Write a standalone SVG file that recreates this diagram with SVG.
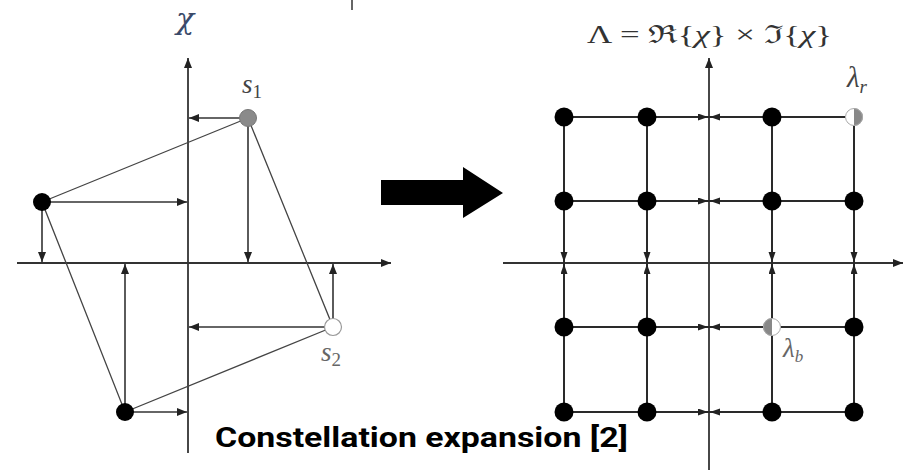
<svg xmlns="http://www.w3.org/2000/svg" width="904" height="474" viewBox="0 0 904 474">
<defs>
<marker id="ah" markerUnits="userSpaceOnUse" markerWidth="11" markerHeight="8" refX="10" refY="4" orient="auto"><path d="M0,0 L10,4 L0,8 z" fill="#222"/></marker>
<marker id="ahs" markerUnits="userSpaceOnUse" markerWidth="11" markerHeight="8" refX="10" refY="3.5" orient="auto"><path d="M0,0 L10,3.5 L0,7 z" fill="#222"/></marker>
</defs>
<style>
.ax{stroke:#333;stroke-width:1.8;fill:none}
.pr{stroke:#333;stroke-width:1.6;fill:none;marker-end:url(#ah)}
.quad{stroke:#444;stroke-width:1.3;fill:none}
.gl{stroke:#2a2a2a;stroke-width:2;fill:none}
.ga{stroke:#2a2a2a;stroke-width:2;fill:none;marker-end:url(#ahs)}
.dot{fill:#000}
.cap{font-family:Roboto,"Liberation Sans",sans-serif;font-weight:bold;font-size:28px;fill:#000}
</style>
<line x1="352" y1="0" x2="352" y2="10" stroke="#333" stroke-width="1.5"/>
<g id="left-axes">
<line class="ax" x1="188" y1="453" x2="188" y2="58" marker-end="url(#ah)"/>
<line class="ax" x1="17" y1="263" x2="391" y2="263" marker-end="url(#ah)"/>
<text x="185" y="29" font-family="'DejaVu Serif',serif" font-style="italic" font-size="30" text-anchor="middle" fill="#3a4a6a">χ</text>
</g>
<g id="connectors">
<polygon class="quad" points="248,118 42,202 125,412 333,327"/>
<line class="pr" x1="240" y1="118" x2="189" y2="118"/>
<line class="pr" x1="248" y1="126" x2="248" y2="262"/>
<line class="pr" x1="50" y1="202" x2="187" y2="202"/>
<line class="pr" x1="42" y1="210" x2="42" y2="262"/>
<line class="pr" x1="125" y1="404" x2="125" y2="264"/>
<line class="pr" x1="133" y1="412" x2="187" y2="412"/>
<line class="pr" x1="325" y1="327" x2="189" y2="327"/>
<line class="pr" x1="333" y1="319" x2="333" y2="264"/>
</g>
<g id="s1"><circle cx="248" cy="118" r="8.5" fill="#8a8a8a" stroke="#777" stroke-width="1"/>
<text x="242" y="93" font-family="'Liberation Serif',serif" font-style="italic" font-size="27" fill="#444">s<tspan font-size="19" dy="5" font-style="normal">1</tspan></text></g>
<g id="p-left"><circle class="dot" cx="42" cy="202" r="9"/></g>
<g id="p-bottom"><circle class="dot" cx="125" cy="412" r="9"/></g>
<g id="s2"><circle cx="333" cy="327" r="8.5" fill="#fff" stroke="#999" stroke-width="1.2"/>
<text x="321" y="361" font-family="'Liberation Serif',serif" font-style="italic" font-size="27" fill="#666">s<tspan font-size="19" dy="5" font-style="normal">2</tspan></text></g>
<g id="big-arrow"><polygon points="381,180 463,180 463,167 503,193 463,218 463,205 381,205" fill="#000"/></g>
<g id="right-axes">
<line class="ax" x1="709" y1="470" x2="709" y2="58" marker-end="url(#ah)"/>
<line class="ax" x1="503" y1="263" x2="903" y2="263" marker-end="url(#ah)"/>
<text x="587" y="43" font-family="'Liberation Serif','DejaVu Serif',serif" font-size="25" fill="#333" textLength="245" lengthAdjust="spacingAndGlyphs">Λ = ℜ{<tspan font-style="italic">χ</tspan>} × ℑ{<tspan font-style="italic">χ</tspan>}</text>
</g>
<g id="grid">
<line class="gl" x1="564" y1="117" x2="564" y2="412"/>
<line class="gl" x1="647" y1="117" x2="647" y2="412"/>
<line class="gl" x1="772" y1="117" x2="772" y2="412"/>
<line class="gl" x1="854" y1="117" x2="854" y2="412"/>
<line class="gl" x1="564" y1="117" x2="854" y2="117"/>
<line class="gl" x1="564" y1="201" x2="854" y2="201"/>
<line class="gl" x1="564" y1="327" x2="854" y2="327"/>
<line class="gl" x1="564" y1="412" x2="854" y2="412"/>
<line class="ga" x1="690" y1="117" x2="708" y2="117"/><line class="ga" x1="728" y1="117" x2="710" y2="117"/>
<line class="ga" x1="690" y1="201" x2="708" y2="201"/><line class="ga" x1="728" y1="201" x2="710" y2="201"/>
<line class="ga" x1="690" y1="327" x2="708" y2="327"/><line class="ga" x1="728" y1="327" x2="710" y2="327"/>
<line class="ga" x1="690" y1="412" x2="708" y2="412"/><line class="ga" x1="728" y1="412" x2="710" y2="412"/>
<line class="ga" x1="564" y1="245" x2="564" y2="262"/><line class="ga" x1="564" y1="281" x2="564" y2="264"/>
<line class="ga" x1="647" y1="245" x2="647" y2="262"/><line class="ga" x1="647" y1="281" x2="647" y2="264"/>
<line class="ga" x1="772" y1="245" x2="772" y2="262"/><line class="ga" x1="772" y1="281" x2="772" y2="264"/>
<line class="ga" x1="854" y1="245" x2="854" y2="262"/><line class="ga" x1="854" y1="281" x2="854" y2="264"/>
</g>
<g id="grid-points">
<circle class="dot" cx="564" cy="117" r="9.5"/><circle class="dot" cx="647" cy="117" r="9.5"/><circle class="dot" cx="772" cy="117" r="9.5"/>
<circle class="dot" cx="564" cy="201" r="9.5"/><circle class="dot" cx="647" cy="201" r="9.5"/><circle class="dot" cx="772" cy="201" r="9.5"/><circle class="dot" cx="854" cy="201" r="9.5"/>
<circle class="dot" cx="564" cy="327" r="9.5"/><circle class="dot" cx="647" cy="327" r="9.5"/><circle class="dot" cx="854" cy="327" r="9.5"/>
<circle class="dot" cx="564" cy="412" r="9.5"/><circle class="dot" cx="647" cy="412" r="9.5"/><circle class="dot" cx="772" cy="412" r="9.5"/><circle class="dot" cx="854" cy="412" r="9.5"/>
</g>
<g id="lambda-r">
<path d="M854,108 A9,9 0 0 0 854,126 Z" fill="#fff"/>
<path d="M854,108 A9,9 0 0 1 854,126 Z" fill="#888"/>
<circle cx="854" cy="117" r="8.5" fill="none" stroke="#aaa" stroke-width="1"/>
<text x="847" y="87" font-family="'Liberation Serif',serif" font-style="italic" font-size="29" fill="#444">λ<tspan font-size="19" dy="6">r</tspan></text>
</g>
<g id="lambda-b">
<path d="M772,318 A9,9 0 0 0 772,336 Z" fill="#888"/>
<path d="M772,318 A9,9 0 0 1 772,336 Z" fill="#fff"/>
<circle cx="772" cy="327" r="8.5" fill="none" stroke="#aaa" stroke-width="1"/>
<text x="783" y="357" font-family="'Liberation Serif',serif" font-style="italic" font-size="27" fill="#666">λ<tspan font-size="17" dy="5">b</tspan></text>
</g>
<text class="cap" x="215" y="447" textLength="413" lengthAdjust="spacingAndGlyphs">Constellation expansion [2]</text>
</svg>
